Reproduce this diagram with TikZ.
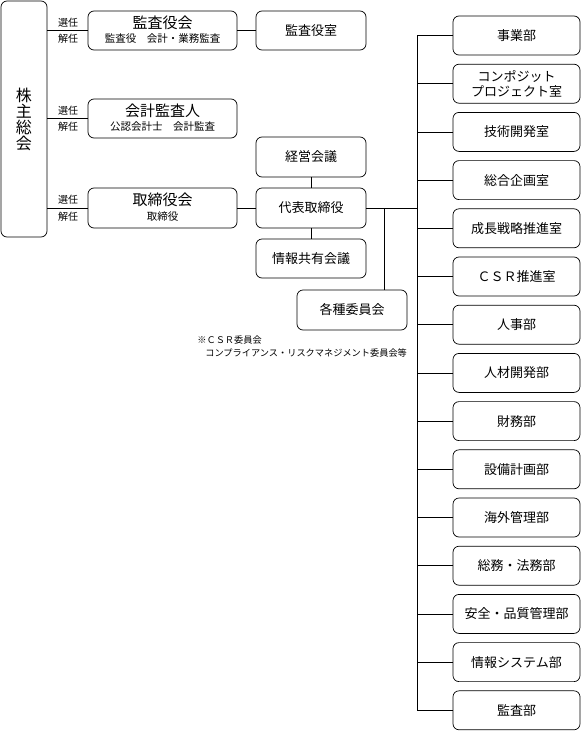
\documentclass[tikz,border=0pt]{standalone}
\usepackage{fontspec}
\setmainfont{Noto Sans CJK JP}
\begin{document}
\begin{tikzpicture}[x=1pt,y=-1pt,
  line width=0.7pt,
  box/.style={draw, rounded corners=6pt, inner sep=0pt, align=center},
  rbox/.style={box, minimum width=127pt, minimum height=39pt, font=\fontsize{13}{15}\selectfont},
  mbox/.style={box, minimum width=110pt, minimum height=39pt, font=\fontsize{13}{15}\selectfont},
  lbox/.style={box, minimum width=149pt, minimum height=39pt},
  ttl/.style={inner sep=0pt, font=\fontsize{15}{16}\selectfont},
  sub/.style={inner sep=0pt, font=\fontsize{10.5}{12}\selectfont},
  lab/.style={inner sep=0pt, font=\fontsize{10}{11}\selectfont},
  note/.style={inner sep=0pt, anchor=west, font=\fontsize{9.2}{11}\selectfont}]
\useasboundingbox (0,0) rectangle (581,731);

% shareholders
\node[box, minimum width=46pt, minimum height=236pt, font=\fontsize{16}{16}\selectfont] (sh) at (24,119) {株\\主\\総\\会};

% left boxes
\node[lbox] (kansa) at (162.5,30.5) {};
\node[ttl] (kansaT) at (162.5,23) {監査役会};
\node[sub] (kansaS) at (162.5,39) {監査役　会計・業務監査};

\node[lbox] (kaikei) at (162.5,118.5) {};
\node[ttl] (kaikeiT) at (162.5,111) {会計監査人};
\node[sub] (kaikeiS) at (162.5,127) {公認会計士　会計監査};

\node[lbox, minimum height=40pt] (tori) at (162.5,208) {};
\node[ttl] (toriT) at (162.5,200) {取締役会};
\node[sub] (toriS) at (162.5,216.5) {取締役};

% labels
\node[lab] (l1a) at (68,23) {選任};
\node[lab] (l1b) at (68,39) {解任};
\node[lab] (l2a) at (68,111) {選任};
\node[lab] (l2b) at (68,127) {解任};
\node[lab] (l3a) at (68,200) {選任};
\node[lab] (l3b) at (68,216.5) {解任};

% middle boxes
\node[mbox] (kshitsu) at (311,30.5) {監査役室};
\node[mbox, minimum height=40pt] (keiei) at (311,157) {経営会議};
\node[mbox, minimum height=40pt] (daihyo) at (311,208) {代表取締役};
\node[mbox] (joho) at (311,258.5) {情報共有会議};
\node[mbox, minimum height=40pt] (iinkai) at (352,310) {各種委員会};

\node[note] (n1) at (197,340) {※ＣＳＲ委員会};
\node[note] (n2) at (205,353) {コンプライアンス・リスクマネジメント委員会等};

% right boxes
\foreach \t [count=\i] in {事業部,{コンポジット\\プロジェクト室},技術開発室,総合企画室,成長戦略推進室,ＣＳＲ推進室,人事部,人材開発部,財務部,設備計画部,海外管理部,総務・法務部,安全・品質管理部,情報システム部,監査部}{
  \node[rbox] (r\i) at (516.5,{35.5+48.2*(\i-1)}) {\t};
}

% connectors
\draw (sh.east |- kansa.west) -- (kansa.west);
\draw (sh.east |- kaikei.west) -- (kaikei.west);
\draw (sh.east |- tori.west) -- (tori.west);
\draw (kansa.east) -- (kshitsu.west);
\draw (tori.east) -- (daihyo.west);
\draw (keiei.south) -- (daihyo.north);
\draw (daihyo.south) -- (joho.north);
\coordinate (bus) at (417,208);
\coordinate (br) at (384,208);
\draw (daihyo.east) -- (bus);
\draw (br) -- (br |- iinkai.north);
\draw (bus |- r1.west) -- (bus |- r15.west);
\foreach \i in {1,...,15}{
  \draw (bus |- r\i.west) -- (r\i.west);
}
\end{tikzpicture}
\end{document}
